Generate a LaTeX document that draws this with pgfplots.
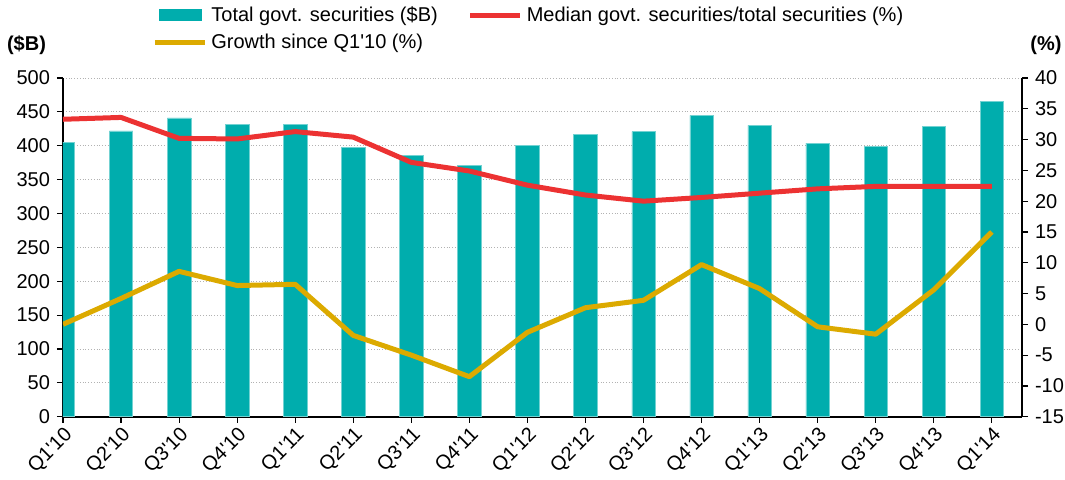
\documentclass[border=0pt]{standalone}
\usepackage{fontspec}
\setmainfont{Liberation Sans}
\usepackage{pgfplots}
\pgfplotsset{compat=1.18}
\definecolor{barteal}{RGB}{0,173,173}
\definecolor{medred}{RGB}{236,50,50}
\definecolor{growyel}{RGB}{220,170,0}
\newcommand\q{\textquotesingle}
\begin{document}
\begin{tikzpicture}[font=\fontsize{10}{12}\selectfont]
\path[use as bounding box] (-31.5pt,-31.15pt) rectangle (501pt,208.35pt);
\begin{axis}[
 name=main,
 at={(0,0)}, anchor=south west,
 scale only axis, width=479.5pt, height=169.35pt,
 xmin=0, xmax=16.52, ymin=0, ymax=500,
 ytick={0,50,...,500},
 xtick={0,...,16},
 xticklabels={Q1\q10,Q2\q10,Q3\q10,Q4\q10,Q1\q11,Q2\q11,Q3\q11,Q4\q11,Q1\q12,Q2\q12,Q3\q12,Q4\q12,Q1\q13,Q2\q13,Q3\q13,Q4\q13,Q1\q14},
 x tick label style={rotate=45, anchor=north east, inner sep=1pt},
 axis x line*=bottom, axis y line*=left,
 axis line style={-, line width=1pt, black},
 tick align=outside, major tick length=3pt,
 tick style={black, line width=0.6pt},
 ymajorgrids, grid style={densely dotted, gray!60, line width=0.4pt},
 /pgf/number format/assume math mode=true,
 ybar, bar width=11.7pt,
]
\addplot[fill=barteal, draw=barteal!55, line width=0.3pt, bar shift=0pt] coordinates {
(0,405) (1,422) (2,441) (3,431) (4,432) (5,398) (6,385.5) (7,371) (8,400)
(9,416.5) (10,421) (11,445) (12,430) (13,404) (14,399) (15,429) (16,466)};
\end{axis}
\begin{axis}[
 at={(0,0)}, anchor=south west,
 scale only axis, width=479.5pt, height=169.35pt,
 xmin=0, xmax=16.52, ymin=-15, ymax=40,
 ytick={-15,-10,...,40},
 xtick=\empty,
 axis x line=none, axis y line*=right,
 axis line style={-, line width=1pt, black},
 tick align=outside, major tick length=3pt,
 tick style={black, line width=0.6pt},
 /pgf/number format/assume math mode=true,
 legend columns=2,
 legend cell align=left,
 legend image code/.code={\draw[#1] (0pt,0pt) -- (25pt,0pt);},
 legend style={at={(axis description cs:0.0928,1.2244)}, anchor=north west, draw=none, fill=none, inner sep=0pt,
   /tikz/every even column/.append style={column sep=13pt}, row sep=1pt},
]
\addlegendimage{legend image code/.code={\fill[barteal] (2pt,-2.75pt) rectangle (23pt,2.75pt);}}
\addlegendentry{Total govt. securities (\$B)}
\addplot[medred, line width=2.5pt, line join=round, mark=none] coordinates {
(0,33.3) (1,33.6) (2,30.2) (3,30.1) (4,31.3) (5,30.4) (6,26.3) (7,24.9) (8,22.6)
(9,21.0) (10,20.0) (11,20.6) (12,21.3) (13,22.0) (14,22.4) (15,22.4) (16,22.4)};
\addlegendentry{Median govt. securities/total securities (\%)}
\addplot[growyel, line width=2.5pt, line join=round, mark=none] coordinates {
(0,0.0) (1,4.2) (2,8.6) (3,6.3) (4,6.5) (5,-1.8) (6,-5.0) (7,-8.5) (8,-1.3)
(9,2.7) (10,3.9) (11,9.7) (12,5.8) (13,-0.4) (14,-1.6) (15,5.6) (16,15.0)};
\addlegendentry{Growth since Q1\q10 (\%)}
\end{axis}
\node[font=\fontsize{10}{12}\selectfont\bfseries] at ([xshift=-18.25pt,yshift=16.5pt]main.north west) {(\$B)};
\node[font=\fontsize{10}{12}\selectfont\bfseries] at ([xshift=12pt,yshift=16.5pt]main.north east) {(\%)};
\end{tikzpicture}
\end{document}
